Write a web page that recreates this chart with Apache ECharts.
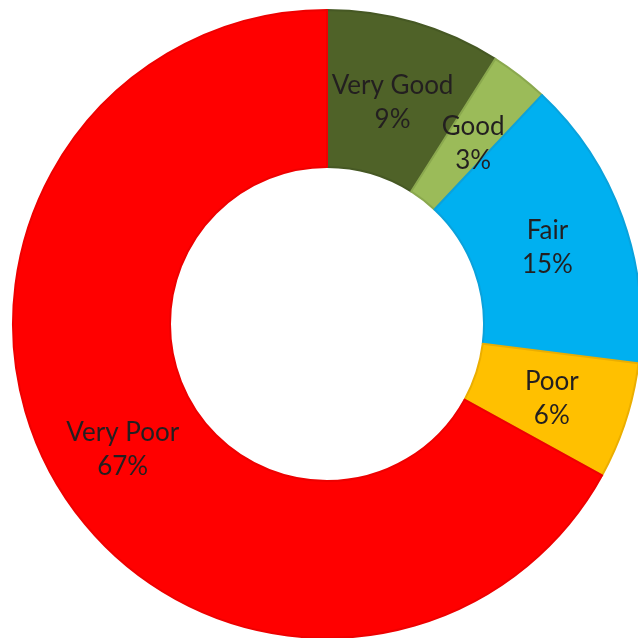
<!DOCTYPE html>
<html>
<head>
<meta charset="utf-8">
<style>
  html, body { margin: 0; padding: 0; background: #ffffff; }
  #chart { width: 638px; height: 638px; }
</style>
<script src="https://cdn.jsdelivr.net/npm/echarts@6/dist/echarts.min.js"></script>
</head>
<body>
<div id="chart"></div>
<script>
// Condition ratings and their share of the total (percent)
const categories = ['Very Good', 'Good', 'Fair', 'Poor', 'Very Poor'];
const shares = [9, 3, 15, 6, 67];
const fillColors = ['#4F6228', '#9BBB59', '#00B0F0', '#FFC000', '#FF0000'];
const edgeColors = ['#465824', '#8AA84E', '#0AA2DC', '#EBAE00', '#EE0000'];
// small nudges of each slice label away from the default mid-ring spot
const labelNudges = [[-1, 8], [0, 8], [-4, 4], [-2, 1], [1, 4]];

const chart = echarts.init(document.getElementById('chart'), null, { renderer: 'canvas' });

chart.setOption({
  backgroundColor: '#ffffff',
  animation: false,
  series: [{
    type: 'pie',
    center: [327, 324],
    radius: [157, 314],
    startAngle: 90,
    clockwise: true,
    avoidLabelOverlap: false,
    labelLayout: { hideOverlap: false },
    label: {
      show: true,
      position: 'inside',
      formatter: '{b}\n{c}%',
      color: '#231F20',
      fontFamily: 'Lato, "Open Sans", sans-serif',
      fontSize: 26,
      lineHeight: 34
    },
    labelLine: { show: false },
    emphasis: { disabled: true },
    data: categories.map((name, i) => ({
      name: name,
      value: shares[i],
      label: { offset: labelNudges[i] },
      itemStyle: {
        color: fillColors[i],
        borderColor: edgeColors[i],
        borderWidth: 2
      }
    }))
  }],
  graphic: [{
    type: 'rect',
    left: 602,
    top: 477,
    shape: { width: 40, height: 170 },
    style: { fill: '#ffffff' },
    z: 100
  }]
});
</script>
</body>
</html>
